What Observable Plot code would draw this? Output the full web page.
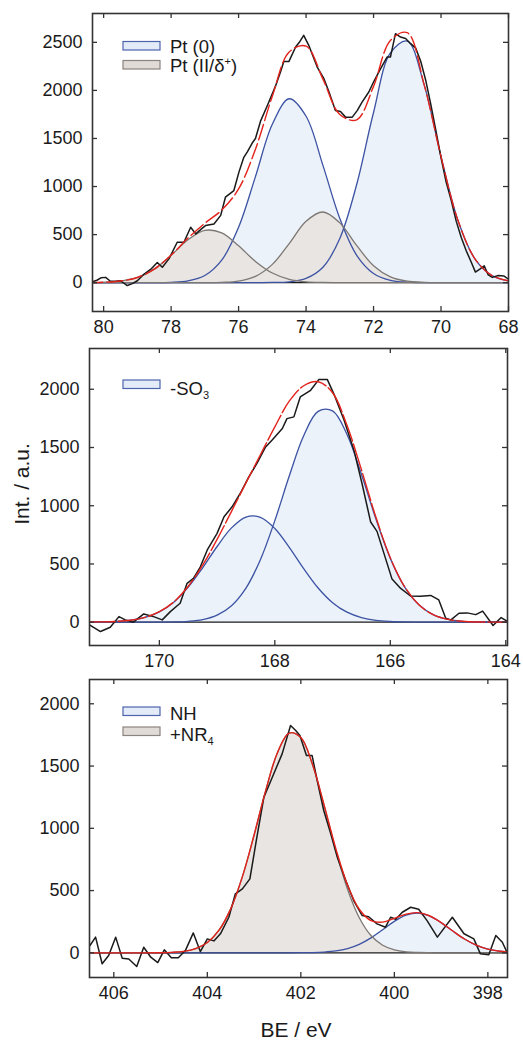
<!DOCTYPE html>
<html><head><meta charset="utf-8">
<script src="https://cdn.jsdelivr.net/npm/d3@7"></script>
<script src="https://cdn.jsdelivr.net/npm/@observablehq/plot@0.6"></script>
<style>
body{margin:0;background:#fff;}
#wrap{position:relative;width:523px;height:1040px;overflow:hidden;}
#wrap > div{position:absolute;left:0;}
</style></head><body><div id="wrap"></div>
<script>
// ---------- Pt 4f ----------
const ptE = [80.5,80,79.5,79,78.5,78,77.5,77,76.5,76,75.5,75,74.5,74,73.5,73,72.5,72,71.5,71,70.5,70,69.5,69,68.5,68];
const ptZeroA = [0,0,0,0,0,0,0,0,0,0,0,2,9,44,160,460,1021,1770,2390,2512,2057,1311,650,251,76,18];
const ptZeroB = [0,0,0,0,0,3,18,74,234,576,1103,1647,1913,1731,1220,668,285,96,25,5,0,0,0,0,0,0];
const ptIIa = [1,4,17,54,141,284,446,544,518,383,221,100,35,9,2,0,0,0,0,0,0,0,0,0,0,0];
const ptIIb = [0,0,0,0,0,0,0,0,3,16,65,190,406,638,735,622,387,176,60,15,3,0,0,0,0,0];
const ptFit = [1,4,17,54,141,287,464,618,755,975,1389,1939,2400,2460,2117,1750,1693,2042,2520,2600,2060,1311,650,251,76,18];
const ptRawE = [80.33,80.2,80.08,79.94,79.8,79.65,79.5,79.3,79.15,79.0,78.8,78.6,78.41,78.26,78.06,77.82,77.62,77.42,77.27,77.1,76.98,76.73,76.53,76.39,76.14,75.99,75.85,75.74,75.6,75.5,75.35,75.15,74.9,74.75,74.66,74.51,74.31,74.2,74.07,73.92,73.67,73.47,73.32,73.13,72.98,72.83,72.63,72.48,72.34,72.14,72.0,71.79,71.6,71.5,71.35,71.2,71.05,70.9,70.75,70.6,70.45,70.3,70.15,70.0,69.85,69.7,69.55,69.4,69.25,69.1,68.98,68.85,68.72,68.6,68.48,68.3,68.14,68.0];
const ptRawI = [10,25,50,55,15,15,20,-30,-10,20,90,140,210,160,250,420,420,576,507,560,594,611,700,889,958,1150,1300,1360,1450,1500,1680,1840,2050,2200,2300,2300,2451,2500,2573,2469,2243,2122,1983,1792,1780,1722,1722,1792,1878,1983,2087,2226,2347,2347,2590,2555,2540,2486,2440,2300,2100,1850,1580,1300,1050,860,640,470,330,210,110,140,175,80,55,75,70,35];
const ptXTicks = [80,78,76,74,72,70,68];
const ptYTicks = [0,500,1000,1500,2000,2500];

// ---------- S 2p ----------
const sE = [171.25,171,170.75,170.5,170.25,170,169.75,169.5,169.25,169,168.75,168.5,168.25,168,167.75,167.5,167.25,167,166.75,166.5,166.25,166,165.75,165.5,165.25,165,164.75,164.5,164.25,164];
const so3A = [1,2,6,17,41,89,172,301,467,650,810,903,901,805,643,460,294,168,86,40,16,6,2,1,0,0,0,0,0,0];
const so3B = [0,0,0,0,0,1,2,8,23,61,142,293,537,872,1255,1601,1810,1814,1612,1270,887,548,301,147,63,24,8,2,1,0];
const sFit = [2,3,7,17,41,90,174,309,490,711,952,1196,1438,1677,1898,2030,2065,1970,1690,1310,903,554,303,148,63,24,8,2,1,0];
const sRawE = [171.21,171.02,170.85,170.7,170.59,170.45,170.27,170.1,169.95,169.81,169.64,169.52,169.41,169.29,169.17,169.0,168.88,168.74,168.6,168.45,168.31,168.16,168.05,167.87,167.79,167.67,167.56,167.38,167.24,167.09,166.98,166.8,166.63,166.49,166.34,166.23,166.11,165.97,165.82,165.65,165.48,165.3,165.16,165.04,164.95,164.81,164.67,164.52,164.4,164.22,164.08,163.98];
const sRawI = [-23,-80,-43,48,20,0,71,48,20,91,163,334,377,476,620,763,905,991,1105,1248,1363,1505,1563,1663,1748,1763,1934,1991,2083,2083,1963,1734,1477,1191,860,780,591,370,290,225,222,230,191,34,20,77,80,65,95,-28,40,10];
const sXTicks = [170,168,166,164];
const sYTicks = [0,500,1000,1500,2000];

// ---------- N 1s ----------
const nE = [406.5,406,405.5,405,404.75,404.5,404.25,404,403.75,403.5,403.25,403,402.75,402.5,402.25,402,401.75,401.5,401.25,401,400.75,400.5,400.25,400,399.75,399.5,399.25,399,398.75,398.5,398.25,398,397.75,397.5];
const nhVals = [0,0,0,0,0,0,0,0,0,0,0,0,0,0,0,1,2,6,15,34,68,120,186,253,303,320,297,243,175,111,62,30,13,5];
const nr4Vals = [0,0,0,1,4,12,34,83,182,353,612,946,1305,1607,1765,1728,1511,1178,820,509,282,139,61,24,8,3,1,0,0,0,0,0,0,0];
const nFit = [0,0,0,1,4,12,34,83,182,353,612,946,1305,1607,1765,1729,1513,1184,835,543,350,259,247,277,311,323,298,243,175,111,62,30,13,5];
const nRawE = [406.51,406.39,406.25,406.11,405.96,405.82,405.68,405.51,405.36,405.21,405.06,404.92,404.77,404.62,404.47,404.3,404.15,404.0,403.86,403.72,403.54,403.4,403.25,403.09,402.94,402.79,402.61,402.4,402.22,402.11,402.02,401.88,401.76,401.65,401.51,401.36,401.22,401.04,400.87,400.69,400.55,400.37,400.19,400.08,399.97,399.83,399.65,399.48,399.3,399.08,398.76,398.51,398.3,398.16,397.98,397.83,397.69,397.58];
const nRawI = [59,126,-88,-22,126,-43,-50,-110,45,-35,-78,24,-40,-40,18,160,10,112,96,153,286,474,514,594,929,1250,1410,1598,1826,1786,1745,1585,1585,1384,1143,956,768,581,420,300,290,233,206,286,270,326,366,350,259,126,286,153,112,-8,-15,139,85,-5];
const nXTicks = [406,404,402,400,398];
const nYTicks = [0,500,1000,1500,2000];

// ---------- styles ----------
const BLUE_FILL = "#ebf2fa", BLUE_LINE = "#3c52a3";
const GRAY_FILL = "#e8e5e2", GRAY_LINE = "#7d7874";
const RED = "#e3231b", INK = "#1a1a1a", FRAME = "#333";
const FONT = "Liberation Sans, Arial, Helvetica, sans-serif";

function makePanel(cfg) {
  const fw = 523 - cfg.ml - cfg.mr, fh = cfg.height - cfg.mt - cfg.mb;
  const raw = cfg.rawE.map((e, i) => ({e, v: cfg.rawI[i]}));
  const marks = [];
  const order = [...cfg.comps.filter(c => c.kind === "blue"), ...cfg.comps.filter(c => c.kind === "gray")];
  for (const c of order) {
    marks.push(Plot.areaY(cfg.grid, {x: d => d, y1: 0, y2: (d, i) => c.vals[i],
      fill: c.kind === "blue" ? BLUE_FILL : GRAY_FILL, curve: "catmull-rom", clip: true}));
  }
  marks.push(Plot.ruleY([0], {stroke: INK, strokeWidth: 1.3}));
  for (const c of order) {
    marks.push(Plot.line(cfg.grid, {x: d => d, y: (d, i) => c.vals[i],
      stroke: c.kind === "blue" ? BLUE_LINE : GRAY_LINE, strokeWidth: 1.3, curve: "catmull-rom", clip: true}));
  }
  marks.push(Plot.line(raw, {x: "e", y: "v", stroke: INK, strokeWidth: 1.5, clip: true}));
  marks.push(Plot.line(cfg.grid, {x: d => d, y: (d, i) => cfg.fit[i], stroke: RED, strokeWidth: 1.4,
    strokeDasharray: cfg.dash, curve: "catmull-rom", clip: true}));
  marks.push(Plot.tickX(cfg.xticks, {x: d => d, insetTop: fh - 5, stroke: FRAME, strokeWidth: 1.3}));
  marks.push(Plot.tickX(cfg.xticks, {x: d => d, insetBottom: fh - 5, stroke: FRAME, strokeWidth: 1.3}));
  marks.push(Plot.tickY(cfg.yticks, {y: d => d, insetRight: fw - 5, stroke: FRAME, strokeWidth: 1.3}));
  marks.push(Plot.tickY(cfg.yticks, {y: d => d, insetLeft: fw - 5, stroke: FRAME, strokeWidth: 1.3}));
  marks.push(Plot.frame({stroke: FRAME, strokeWidth: 1.6}));
  marks.push(Plot.axisX(cfg.xticks, {tickSize: 0, tickPadding: 9, fontSize: 18, fill: INK, tickFormat: d => String(d), label: null}));
  marks.push(Plot.axisY(cfg.yticks, {tickSize: 0, tickPadding: 10, fontSize: 18, fill: INK, tickFormat: d => String(d), label: null}));
  return Plot.plot({
    width: 523, height: cfg.height,
    marginTop: cfg.mt, marginBottom: cfg.mb, marginLeft: cfg.ml, marginRight: cfg.mr,
    x: {domain: cfg.xdom}, y: {domain: cfg.ydom},
    style: {fontFamily: FONT, fontSize: "18px", background: "transparent", overflow: "visible"},
    marks
  });
}

const wrap = document.getElementById("wrap");
const panels = [
  {top: 0, height: 340, mt: 13, mb: 29, ml: 92, mr: 15, xdom: [80.33, 68], ydom: [-300, 2800],
   grid: ptE, fit: ptFit, rawE: ptRawE, rawI: ptRawI, xticks: ptXTicks, yticks: ptYTicks, dash: "16,4",
   comps: [{kind: "blue", vals: ptZeroA}, {kind: "blue", vals: ptZeroB}, {kind: "gray", vals: ptIIa}, {kind: "gray", vals: ptIIb}]},
  {top: 340, height: 340, mt: 8, mb: 35, ml: 89, mr: 16, xdom: [171.21, 163.97], ydom: [-200, 2350],
   grid: sE, fit: sFit, rawE: sRawE, rawI: sRawI, xticks: sXTicks, yticks: sYTicks, dash: "28,3",
   comps: [{kind: "blue", vals: so3A}, {kind: "blue", vals: so3B}]},
  {top: 670, height: 370, mt: 9, mb: 63, ml: 89, mr: 16, xdom: [406.52, 397.58], ydom: [-198, 2195],
   grid: nE, fit: nFit, rawE: nRawE, rawI: nRawI, xticks: nXTicks, yticks: nYTicks, dash: null,
   comps: [{kind: "blue", vals: nhVals}, {kind: "gray", vals: nr4Vals}]}
];
for (const p of panels) {
  const div = document.createElement("div");
  div.style.top = p.top + "px";
  div.appendChild(makePanel(p));
  wrap.appendChild(div);
}

// ---------- legends and axis titles (overlay) ----------
const ov = d3.select(wrap).append("div").style("top", "0px")
  .append("svg").attr("width", 523).attr("height", 1040)
  .style("font-family", FONT).style("font-size", "18.5px");
const legend = [
  {y: 41.5, kind: "blue", base: 52.5, parts: [["Pt (0)"]]},
  {y: 60.5, kind: "gray", base: 72, parts: [["Pt (II/δ"], ["+", "sup"], [")", "back"]]},
  {y: 380, kind: "blue", base: 395, parts: [["-SO"], ["3", "sub"]]},
  {y: 707, kind: "blue", base: 720, parts: [["NH"]]},
  {y: 727, kind: "gray", base: 741, parts: [["+NR"], ["4", "sub"]]}
];
for (const l of legend) {
  ov.append("rect").attr("x", 123).attr("y", l.y).attr("width", 37).attr("height", 8.5)
    .attr("fill", l.kind === "blue" ? "#e2ebf7" : "#e0dbd7")
    .attr("stroke", l.kind === "blue" ? "#4e63ad" : "#8a837e").attr("stroke-width", 1.2);
  const t = ov.append("text").attr("x", 170).attr("y", l.base).attr("fill", INK);
  for (const [s, k] of l.parts) {
    const ts = t.append("tspan").text(s);
    if (k === "sup") ts.attr("font-size", 11).attr("dy", -7);
    else if (k === "sub") ts.attr("font-size", 11).attr("dy", 4);
    else if (k === "back") ts.attr("dy", 7);
  }
}
ov.append("text").attr("transform", "translate(29,484) rotate(-90)").attr("text-anchor", "middle")
  .attr("fill", INK).style("font-size", "21px").text("Int. / a.u.");
ov.append("text").attr("x", 296).attr("y", 1037).attr("text-anchor", "middle")
  .attr("fill", INK).style("font-size", "21px").text("BE / eV");
</script></body></html>
